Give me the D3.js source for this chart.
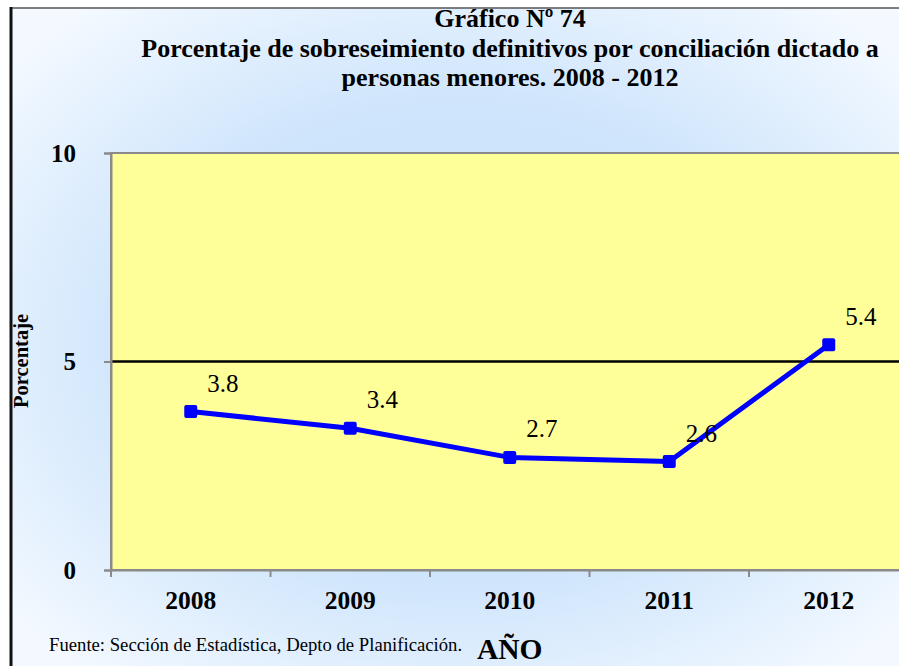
<!DOCTYPE html>
<html>
<head>
<meta charset="utf-8">
<script src="https://cdn.jsdelivr.net/npm/d3@7"></script>
<style>
  body { margin: 0; background: #fff; }
  svg { display: block; font-family: "Liberation Serif", "Times New Roman", serif; }
</style>
</head>
<body>
<div id="chart"></div>
<script>
const years = ["2008", "2009", "2010", "2011", "2012"]
const values = [3.8, 3.4, 2.7, 2.6, 5.4]
const yTicks = [0, 5, 10]
const titleLines = [
    "Gráfico Nº 74",
    "Porcentaje de sobreseimiento definitivos por conciliación dictado a",
    "personas menores. 2008 - 2012"
]

const width = 899
const height = 666

const svg = d3.select("div#chart").append("svg")
    .attr("width", width)
    .attr("height", height)

const defs = svg.append("defs")
const grad = defs.append("radialGradient")
    .attr("id", "bg")
    .attr("cx", "50%").attr("cy", "50%").attr("r", "65%")
grad.append("stop").attr("offset", "0%").attr("stop-color", "#c3defb")
grad.append("stop").attr("offset", "55%").attr("stop-color", "#cfe5fc")
grad.append("stop").attr("offset", "100%").attr("stop-color", "#f3f9ff")

// outer frame
svg.append("rect")
    .attr("x", 11).attr("y", 8)
    .attr("width", width).attr("height", height)
    .attr("fill", "url(#bg)")
svg.append("line")
    .attr("x1", 11).attr("x2", width).attr("y1", 8).attr("y2", 8)
    .attr("stroke", "#555").attr("stroke-width", 1.5)
svg.append("line")
    .attr("x1", 11).attr("x2", 11).attr("y1", 7).attr("y2", height)
    .attr("stroke", "#111").attr("stroke-width", 3)

const plotLeft = 111, plotTop = 153, plotBottom = 570, bandW = 159.5
const plotRight = plotLeft + bandW * years.length

const x = d3.scaleBand().domain(years).range([plotLeft, plotRight]).padding(0)
const y = d3.scaleLinear().domain([0, 10]).range([plotBottom, plotTop])

svg.append("rect")
    .attr("x", plotLeft).attr("y", plotTop)
    .attr("width", plotRight - plotLeft).attr("height", plotBottom - plotTop)
    .attr("fill", "#ffff99")
    .attr("stroke", "#8a8a8a").attr("stroke-width", 2)

// gridline at 5
svg.append("line")
    .attr("x1", plotLeft).attr("x2", plotRight)
    .attr("y1", y(5)).attr("y2", y(5))
    .attr("stroke", "#000").attr("stroke-width", 2.5)

// y axis
const yAxis = svg.append("g")
    .attr("transform", `translate(${plotLeft},0)`)
    .call(d3.axisLeft(y).tickValues(yTicks).tickSize(7).tickPadding(28).tickFormat(d3.format("d")))
yAxis.select(".domain").attr("stroke", "#8a8a8a").attr("stroke-width", 2)
yAxis.selectAll(".tick line").attr("stroke", "#8a8a8a").attr("stroke-width", 2)
yAxis.selectAll(".tick text")
    .attr("font-family", "Liberation Serif, Times New Roman, serif")
    .attr("font-size", 25).attr("font-weight", "bold").attr("fill", "#000")

// x axis
const xAxis = svg.append("g")
    .attr("transform", `translate(0,${plotBottom})`)
    .call(d3.axisBottom(x).tickSize(0).tickPadding(0))
xAxis.select(".domain").attr("stroke", "#8a8a8a").attr("stroke-width", 2)
xAxis.selectAll(".tick text")
    .attr("font-family", "Liberation Serif, Times New Roman, serif")
    .attr("font-size", 25.5).attr("font-weight", "bold").attr("fill", "#000")
    .attr("dy", null).attr("y", 39)
xAxis.selectAll(".sep")
    .data(years.slice(1).concat(["end"]))
    .enter().append("line")
    .attr("class", "sep")
    .attr("x1", (d, i) => plotLeft + bandW * (i + 1))
    .attr("x2", (d, i) => plotLeft + bandW * (i + 1))
    .attr("y1", 0).attr("y2", 7)
    .attr("stroke", "#8a8a8a").attr("stroke-width", 2)
xAxis.append("line")
    .attr("x1", plotLeft).attr("x2", plotLeft).attr("y1", 0).attr("y2", 7)
    .attr("stroke", "#8a8a8a").attr("stroke-width", 2)

const data = years.map((yr, i) => ({ year: yr, value: values[i] }))

const line = d3.line()
    .x(d => x(d.year) + x.bandwidth() / 2)
    .y(d => y(d.value))

svg.append("path")
    .datum(data)
    .attr("d", line)
    .attr("fill", "none")
    .attr("stroke", "#0000ff")
    .attr("stroke-width", 5)
    .attr("stroke-linejoin", "round")

svg.selectAll(".marker")
    .data(data)
    .enter().append("rect")
    .attr("class", "marker")
    .attr("x", d => x(d.year) + x.bandwidth() / 2 - 6.5)
    .attr("y", d => y(d.value) - 6.5)
    .attr("width", 13).attr("height", 13)
    .attr("rx", 2)
    .attr("fill", "#0000ff")

svg.selectAll(".lbl")
    .data(data)
    .enter().append("text")
    .attr("class", "lbl")
    .attr("x", d => x(d.year) + x.bandwidth() / 2 + 32)
    .attr("y", d => y(d.value) - 20)
    .attr("text-anchor", "middle")
    .attr("font-size", 25)
    .attr("fill", "#000")
    .text(d => d.value.toFixed(1))

// titles
const titleY = [27, 57, 86]
svg.selectAll(".title")
    .data(titleLines)
    .enter().append("text")
    .attr("class", "title")
    .attr("x", 510)
    .attr("y", (d, i) => titleY[i])
    .attr("text-anchor", "middle")
    .attr("font-size", 26)
    .attr("font-weight", "bold")
    .text(d => d)

svg.append("text")
    .attr("transform", "translate(28,361) rotate(-90)")
    .attr("text-anchor", "middle")
    .attr("font-size", 20.5)
    .attr("font-weight", "bold")
    .text("Porcentaje")

svg.append("text")
    .attr("x", 49).attr("y", 651)
    .attr("font-size", 18.7)
    .text("Fuente: Sección de Estadística, Depto de Planificación.")

svg.append("text")
    .attr("x", 477).attr("y", 659)
    .attr("font-size", 29.5)
    .attr("font-weight", "bold")
    .text("AÑO")
</script>
</body>
</html>
